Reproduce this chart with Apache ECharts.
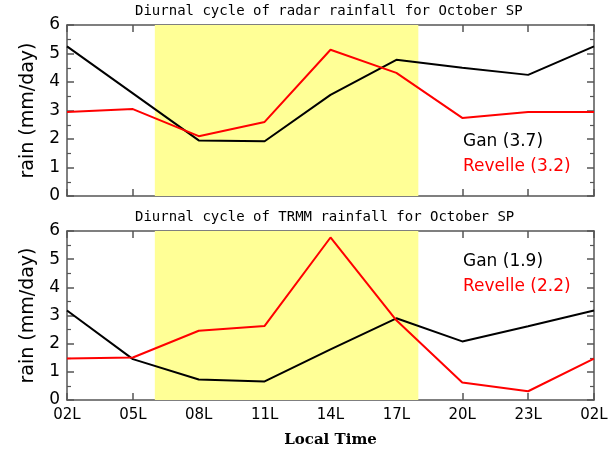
<!DOCTYPE html>
<html>
<head>
<meta charset="utf-8">
<script src="https://cdn.jsdelivr.net/npm/echarts@6/dist/echarts.min.js"></script>
<style>html,body{margin:0;padding:0;background:#fff}#c{width:616px;height:449px}</style>
</head>
<body>
<div id="c"></div>
<script>
// hours since 02L local time
const hours = [0, 3, 6, 9, 12, 15, 18, 21, 24];
const tickLabels = ['02L', '05L', '08L', '11L', '14L', '17L', '20L', '23L', '02L'];
const daytime = [4, 16]; // 06L to 18L shading

const radarGan = [5.25, 3.6, 1.95, 1.92, 3.55, 4.78, 4.5, 4.25, 5.25];
const radarRevelle = [2.95, 3.05, 2.1, 2.6, 5.13, 4.32, 2.74, 2.95, 2.95];
const trmmGan = [3.18, 1.45, 0.73, 0.66, 1.8, 2.9, 2.08, 2.62, 3.18];
const trmmRevelle = [1.47, 1.51, 2.46, 2.63, 5.77, 2.83, 0.62, 0.31, 1.47];

const titles = ['Diurnal cycle of radar rainfall for October SP', 'Diurnal cycle of TRMM rainfall for October SP'];
const legendGan = ['Gan (3.7)', 'Gan (1.9)'];
const legendRevelle = ['Revelle (3.2)', 'Revelle (2.2)'];

const chart = echarts.init(document.getElementById('c'), null, {renderer: 'canvas'});
const axisColor = '#555';
const grids = [
  {left: 67, right: 22, top: 25, height: 171},
  {left: 67, right: 22, top: 231, height: 169}
];
function pair(vals) { return hours.map((h, i) => [h, vals[i]]); }

const line = {show: true, onZero: false, lineStyle: {color: axisColor, width: 1.5}};
const tick = {show: true, inside: true, length: 7, lineStyle: {color: axisColor, width: 1.5}};
const minor = {show: true, splitNumber: 2, length: 4, lineStyle: {color: axisColor, width: 1.2}};

const xAxes = [], yAxes = [], series = [];
[0, 1].forEach(g => {
  const showLabels = g === 1;
  xAxes.push({
    type: 'value', gridIndex: g, min: 0, max: 24, interval: 3, position: 'bottom',
    axisLine: line, axisTick: tick,
    axisLabel: {show: showLabels, color: '#000', fontFamily: 'DejaVu Sans', fontSize: 15, margin: 8,
      formatter: v => tickLabels[hours.indexOf(v)]},
    splitLine: {show: false},
    name: showLabels ? 'Local Time' : '', nameLocation: 'middle', nameGap: 33,
    nameTextStyle: {fontFamily: 'DejaVu Serif', fontSize: 15, fontWeight: 'bold', color: '#000'}
  });
  xAxes.push({
    type: 'value', gridIndex: g, min: 0, max: 24, interval: 3, position: 'top',
    axisLine: line, axisTick: tick,
    axisLabel: {show: false}, splitLine: {show: false}
  });
  yAxes.push({
    type: 'value', gridIndex: g, min: 0, max: 6, interval: 1, position: 'left',
    axisLine: line, axisTick: tick, minorTick: minor,
    axisLabel: {color: '#000', fontFamily: 'DejaVu Sans', fontSize: 17, margin: 7},
    splitLine: {show: false},
    name: 'rain (mm/day)', nameLocation: 'middle', nameGap: 29,
    nameTextStyle: {fontFamily: 'DejaVu Sans', fontSize: 19, color: '#000'}
  });
  yAxes.push({
    type: 'value', gridIndex: g, min: 0, max: 6, interval: 1, position: 'right',
    axisLine: line, axisTick: tick, minorTick: minor,
    axisLabel: {show: false}, splitLine: {show: false}
  });
});

const panels = [[radarGan, radarRevelle], [trmmGan, trmmRevelle]];
panels.forEach((p, g) => {
  series.push({
    type: 'line', xAxisIndex: g * 2, yAxisIndex: g * 2, data: pair(p[0]),
    showSymbol: false, lineStyle: {color: '#000', width: 2}, z: 3, animation: false,
    markArea: {silent: true, itemStyle: {color: 'rgb(255,255,150)'},
      data: [[{xAxis: daytime[0]}, {xAxis: daytime[1]}]]}
  });
  series.push({
    type: 'line', xAxisIndex: g * 2, yAxisIndex: g * 2, data: pair(p[1]),
    showSymbol: false, lineStyle: {color: '#ff0000', width: 2}, z: 4, animation: false
  });
});

const titleY = [12, 218];
const legY = [[143, 168], [263, 288]];
const graphic = [];
[0, 1].forEach(g => {
  graphic.push({type: 'text', left: 330 - 195, top: titleY[g] - 8, style: {text: titles[g], font: '14px "DejaVu Sans Mono"', fill: '#000'}});
  graphic.push({type: 'text', left: 463, top: legY[g][0] - 10, style: {text: legendGan[g], font: '17px "DejaVu Sans"', fill: '#000'}});
  graphic.push({type: 'text', left: 463, top: legY[g][1] - 10, style: {text: legendRevelle[g], font: '17px "DejaVu Sans"', fill: '#ff0000'}});
});

chart.setOption({
  animation: false,
  grid: grids,
  xAxis: xAxes,
  yAxis: yAxes,
  series: series,
  graphic: graphic
});
</script>
</body>
</html>
